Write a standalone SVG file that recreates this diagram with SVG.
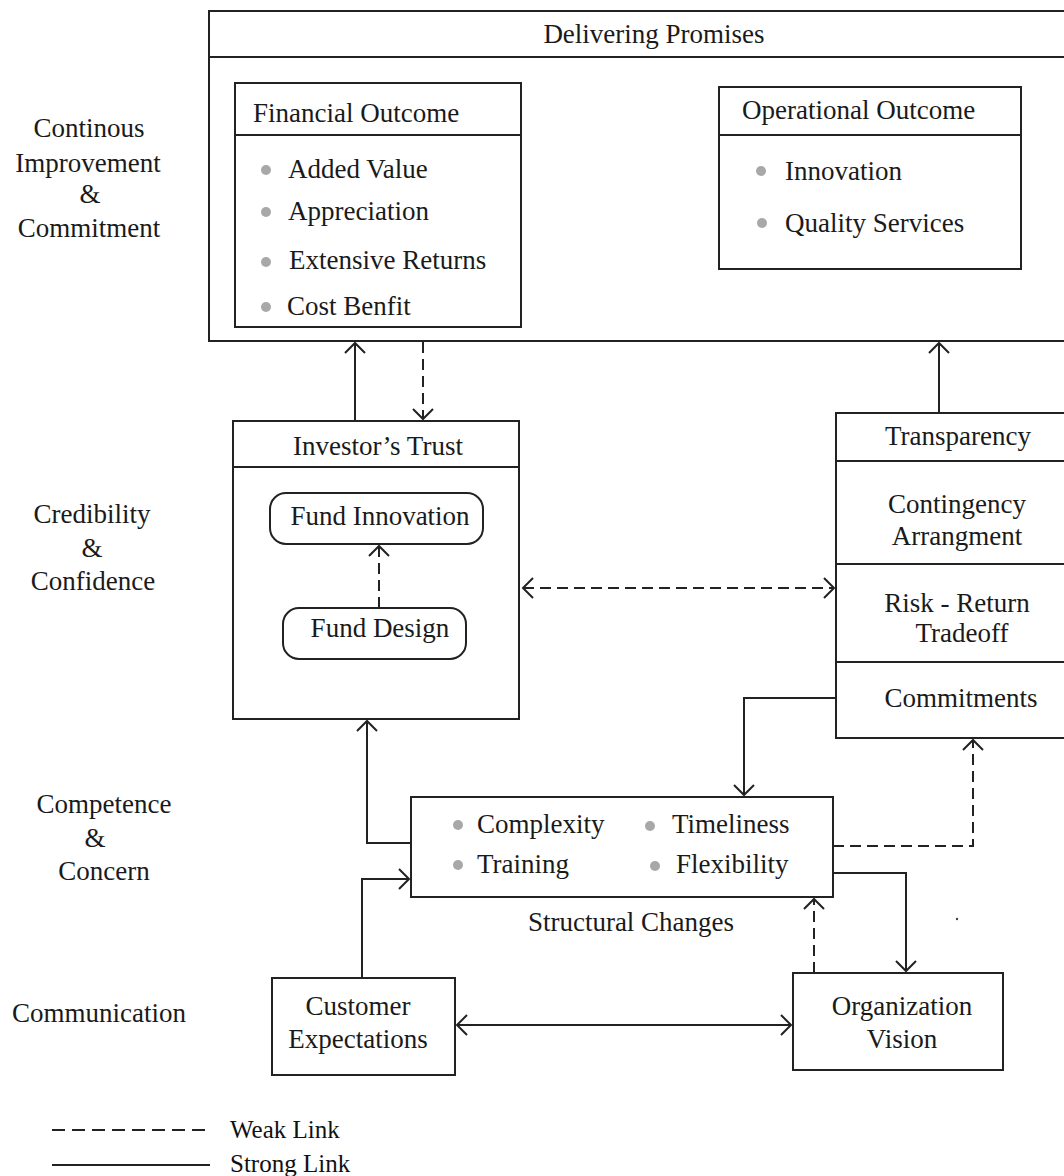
<svg xmlns="http://www.w3.org/2000/svg" width="1064" height="1176" viewBox="0 0 1064 1176">
<style>
text{font-family:"Liberation Serif","Times New Roman",serif;font-size:27px;fill:#1a1a1a}
.c{text-anchor:middle}
.box{fill:none;stroke:#222;stroke-width:2}
.ln{fill:none;stroke:#222;stroke-width:2}
.dash{stroke-dasharray:11 6}
.bul{fill:#a8a8a8}
.leg{font-size:25px;fill:#111}
</style>
<defs>
<marker id="ah" viewBox="-12 -12 14 24" refX="0" refY="0" markerWidth="14" markerHeight="24" markerUnits="userSpaceOnUse" orient="auto-start-reverse">
<path d="M-10,-10 L0,0 L-10,10" fill="none" stroke="#222" stroke-width="2"/>
</marker>
</defs>
<rect width="1064" height="1176" fill="#fff"/>

<g id="axis-labels">
<text class="c" x="89" y="137">Continous</text>
<text class="c" x="88" y="172">Improvement</text>
<text class="c" x="90" y="203">&amp;</text>
<text class="c" x="89" y="237">Commitment</text>
<text class="c" x="92" y="523">Credibility</text>
<text class="c" x="92" y="557">&amp;</text>
<text class="c" x="93" y="590">Confidence</text>
<text class="c" x="104" y="813">Competence</text>
<text class="c" x="95" y="847">&amp;</text>
<text class="c" x="104" y="880">Concern</text>
<text class="c" x="99" y="1022">Communication</text>
</g>

<g id="delivering-promises">
<rect class="box" x="209" y="11" width="870" height="330"/>
<line class="ln" x1="209" y1="57" x2="1070" y2="57"/>
<text class="c" x="654" y="43">Delivering Promises</text>
</g>

<g id="financial-outcome">
<rect class="box" x="235" y="83" width="286" height="244"/>
<line class="ln" x1="235" y1="135" x2="521" y2="135"/>
<text x="253" y="122">Financial Outcome</text>
<circle class="bul" cx="266" cy="170" r="5"/><text x="288" y="178">Added Value</text>
<circle class="bul" cx="266" cy="212" r="5"/><text x="288" y="220">Appreciation</text>
<circle class="bul" cx="266" cy="262" r="5"/><text x="289" y="269">Extensive Returns</text>
<circle class="bul" cx="266" cy="307" r="5"/><text x="287" y="315">Cost Benfit</text>
</g>

<g id="operational-outcome">
<rect class="box" x="719" y="87" width="302" height="182"/>
<line class="ln" x1="719" y1="135" x2="1021" y2="135"/>
<text x="742" y="119">Operational Outcome</text>
<circle class="bul" cx="761" cy="171" r="5"/><text x="785" y="180">Innovation</text>
<circle class="bul" cx="762" cy="223" r="5"/><text x="785" y="232">Quality Services</text>
</g>

<g id="investors-trust">
<rect class="box" x="233" y="421" width="286" height="298"/>
<line class="ln" x1="233" y1="467" x2="519" y2="467"/>
<text class="c" x="378" y="455">Investor’s Trust</text>
</g>

<g id="fund-innovation">
<rect class="box" x="270" y="493" width="213" height="51" rx="16"/>
<text class="c" x="380" y="525">Fund Innovation</text>
</g>

<g id="fund-design">
<rect class="box" x="283" y="608" width="183" height="51" rx="16"/>
<text class="c" x="380" y="637">Fund Design</text>
</g>

<g id="transparency">
<rect class="box" x="836" y="413" width="240" height="325"/>
<line class="ln" x1="836" y1="461" x2="1070" y2="461"/>
<line class="ln" x1="836" y1="564" x2="1070" y2="564"/>
<line class="ln" x1="836" y1="662" x2="1070" y2="662"/>
<text class="c" x="958" y="445">Transparency</text>
<text class="c" x="957" y="513">Contingency</text>
<text class="c" x="957" y="545">Arrangment</text>
<text class="c" x="957" y="612">Risk - Return</text>
<text class="c" x="962" y="642">Tradeoff</text>
<text class="c" x="961" y="707">Commitments</text>
</g>

<g id="structural-changes">
<rect class="box" x="411" y="797" width="422" height="100"/>
<circle class="bul" cx="458" cy="825" r="5"/><text x="477" y="833">Complexity</text>
<circle class="bul" cx="650" cy="826" r="5"/><text x="672" y="833">Timeliness</text>
<circle class="bul" cx="458" cy="865" r="5"/><text x="477" y="873">Training</text>
<circle class="bul" cx="655" cy="866" r="5"/><text x="676" y="873">Flexibility</text>
<text class="c" x="631" y="931">Structural Changes</text>
</g>

<g id="customer-expectations">
<rect class="box" x="272" y="978" width="183" height="97"/>
<text class="c" x="358" y="1015">Customer</text>
<text class="c" x="358" y="1048">Expectations</text>
</g>

<g id="organization-vision">
<rect class="box" x="793" y="973" width="210" height="97"/>
<text class="c" x="902" y="1015">Organization</text>
<text class="c" x="902" y="1048">Vision</text>
</g>

<g id="connectors">
<line class="ln" x1="355" y1="421" x2="355" y2="343" marker-end="url(#ah)"/>
<line class="ln dash" x1="423" y1="342" x2="423" y2="419" marker-end="url(#ah)"/>
<line class="ln" x1="939" y1="413" x2="939" y2="343" marker-end="url(#ah)"/>
<line class="ln dash" x1="379" y1="608" x2="379" y2="546" marker-end="url(#ah)"/>
<line class="ln dash" x1="523" y1="588" x2="834" y2="588" marker-start="url(#ah)" marker-end="url(#ah)"/>
<polyline class="ln" points="836,698 744,698 744,795" marker-end="url(#ah)"/>
<polyline class="ln" points="411,843 367,843 367,721" marker-end="url(#ah)"/>
<polyline class="ln" points="362,978 362,879 409,879" marker-end="url(#ah)"/>
<polyline class="ln dash" points="833,846 973,846 973,740" marker-end="url(#ah)"/>
<polyline class="ln" points="833,873 906,873 906,971" marker-end="url(#ah)"/>
<line class="ln dash" x1="814" y1="973" x2="814" y2="899" marker-end="url(#ah)"/>
<line class="ln" x1="457" y1="1025" x2="791" y2="1025" marker-start="url(#ah)" marker-end="url(#ah)"/>
<circle cx="957" cy="919" r="1.2" fill="#444"/>
</g>

<g id="legend">
<line class="ln" x1="52" y1="1130" x2="210" y2="1130" stroke-dasharray="13 7"/>
<line class="ln" x1="52" y1="1165" x2="210" y2="1165"/>
<text class="leg" x="230" y="1138">Weak Link</text>
<text class="leg" x="230" y="1172">Strong Link</text>
</g>
</svg>
